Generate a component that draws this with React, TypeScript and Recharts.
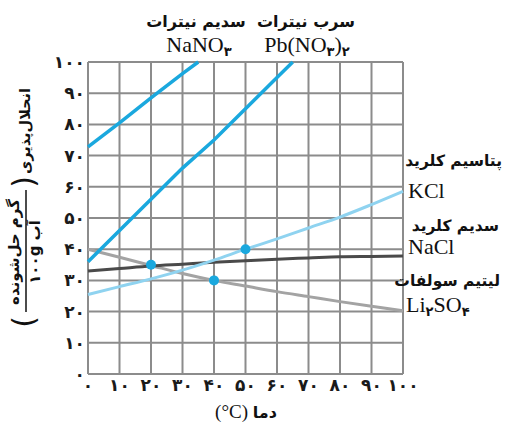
import React from "react";
import {
  ComposedChart,
  Line,
  XAxis,
  YAxis,
  CartesianGrid,
} from "recharts";

// temperature (°C) for the salts measured every 10 degrees
const temps = [0, 10, 20, 30, 40, 50, 60, 70, 80, 90, 100];
const kclValues = [25.5, 28, 30.5, 33.3, 36.5, 40, 43.3, 46.8, 50.3, 54.3, 58.5];
const naclValues = [33, 33.8, 34.6, 35.2, 35.8, 36.3, 36.8, 37.2, 37.6, 37.7, 37.8];
const li2so4Values = [40, 37.4, 34.8, 32.2, 30, 28.2, 26.4, 24.8, 23.2, 21.7, 20.3];

// nitrates leave the top of the chart
const nano3Temps = [0, 10, 20, 30, 35];
const nano3Values = [72.8, 80.5, 88.5, 96.3, 100];
const pbTemps = [0, 10, 20, 30, 40, 50, 60, 65];
const pbValues = [36, 46, 56, 66, 75, 85, 95, 100];

// highlighted points
const markTemps = [20, 40, 50];
const markValues = [35, 30, 40];

const axisTicks = [0, 10, 20, 30, 40, 50, 60, 70, 80, 90, 100];

const toPersian = (n: number | string) =>
  String(n).replace(/\d/g, (d) => "۰۱۲۳۴۵۶۷۸۹"[+d]);

const zip = (xs: number[], ys: number[]) =>
  xs.map((t, i) => ({ t, v: ys[i] }));

const kclData = zip(temps, kclValues);
const naclData = zip(temps, naclValues);
const li2so4Data = zip(temps, li2so4Values);
const nano3Data = zip(nano3Temps, nano3Values);
const pbData = zip(pbTemps, pbValues);
const markData = zip(markTemps, markValues);

const FA = "'DejaVu Sans', sans-serif";
const SERIF = "'Liberation Serif', serif";
const BLUE = "#1aa8de";
const LIGHT_BLUE = "#8fd3f0";

const tickStyle = { fontFamily: FA, fontSize: 17, fontWeight: 700, fill: "#1a1a1a" };

const Formula = ({
  x,
  y,
  parts,
  anchor = "start",
}: {
  x: number;
  y: number;
  parts: [string, boolean][];
  anchor?: "start" | "middle" | "end";
}) => (
  <text x={x} y={y} textAnchor={anchor} fontFamily={SERIF} fontSize={22} fill="#111">
    {parts.map(([s, sub], i) =>
      sub ? (
        <tspan key={i} fontFamily={FA} fontWeight={700} fontSize={13} dy={4}>
          {s}
        </tspan>
      ) : (
        <tspan key={i} dy={i > 0 && parts[i - 1][1] ? -4 : 0}>
          {s}
        </tspan>
      )
    )}
  </text>
);

const Labels = () => (
  <svg
    width={509}
    height={427}
    style={{ position: "absolute", left: 0, top: 0, pointerEvents: "none" }}
  >
    <g fontFamily={FA} fontWeight={700} fill="#111" fontSize={16}>
      <text x={196} y={27} textAnchor="middle">سدیم نیترات</text>
      <text x={306} y={27} textAnchor="middle">سرب نیترات</text>
      <text x={502} y={166} textAnchor="end" fontSize={15.5}>پتاسیم کلرید</text>
      <text x={499} y={231} textAnchor="end" fontSize={15.5}>سدیم کلرید</text>
      <text x={500} y={286} textAnchor="end" fontSize={15.5}>لیتیم سولفات</text>
      <text x={246} y={418} textAnchor="middle" fontSize={16}>
        <tspan fontFamily={SERIF} fontWeight={400} fontSize={19}>(°C) </tspan>دما
      </text>
    </g>
    <Formula x={199} y={52} anchor="middle" parts={[["NaNO", false], ["۳", true]]} />
    <Formula
      x={307}
      y={52}
      anchor="middle"
      parts={[["Pb(NO", false], ["۳", true], [")", false], ["۲", true]]}
    />
    <Formula x={408} y={198} parts={[["KCl", false]]} />
    <Formula x={408} y={254} parts={[["NaCl", false]]} />
    <Formula x={406} y={312} parts={[["Li", false], ["۲", true], ["SO", false], ["۴", true]]} />

    {/* rotated y-axis title with fraction */}
    <g transform="translate(24,212) rotate(-90)" fontFamily={FA} fontWeight={700} fill="#111">
      <text x={81} y={6} textAnchor="middle" fontSize={14.5}>انحلال‌پذیری</text>
      <text x={-40} y={-5} textAnchor="middle" fontSize={15}>گرم حل‌شونده</text>
      <line x1={-100} x2={22} y1={2} y2={2} stroke="#111" strokeWidth={1.5} />
      <text x={-40} y={16} textAnchor="middle" fontSize={15}>
        {toPersian(100)}g آب
      </text>
      <text x={-110} y={10} textAnchor="middle" fontSize={30} fontWeight={400}>(</text>
      <text x={30} y={10} textAnchor="middle" fontSize={30} fontWeight={400}>)</text>
    </g>
  </svg>
);

export default function App() {
  return (
    <div style={{ position: "absolute", left: 0, top: 0, width: 509, height: 427, background: "#fff" }}>
      <ComposedChart
        width={509}
        height={427}
        margin={{ top: 62, right: 106, bottom: 0, left: 0 }}
      >
        <CartesianGrid stroke="#8c8c8c" strokeWidth={2} />
        <XAxis
          type="number"
          dataKey="t"
          domain={[0, 100]}
          ticks={axisTicks}
          height={53}
          axisLine={false}
          tickLine={false}
          tickSize={3}
          tickMargin={2}
          interval={0}
          tick={tickStyle}
          tickFormatter={toPersian}
        />
        <YAxis
          type="number"
          dataKey="v"
          domain={[0, 100]}
          ticks={axisTicks}
          width={88}
          axisLine={false}
          tickLine={false}
          tickSize={2}
          tickMargin={1}
          interval={0}
          tick={tickStyle}
          tickFormatter={toPersian}
        />
        <Line data={li2so4Data} dataKey="v" type="monotone" stroke="#a3a3a3" strokeWidth={3} dot={false} isAnimationActive={false} />
        <Line data={naclData} dataKey="v" type="monotone" stroke="#4a4a4a" strokeWidth={3} dot={false} isAnimationActive={false} />
        <Line data={kclData} dataKey="v" type="monotone" stroke={LIGHT_BLUE} strokeWidth={3} dot={false} isAnimationActive={false} />
        <Line data={nano3Data} dataKey="v" type="linear" stroke={BLUE} strokeWidth={3.5} dot={false} isAnimationActive={false} />
        <Line data={pbData} dataKey="v" type="linear" stroke={BLUE} strokeWidth={3.5} dot={false} isAnimationActive={false} />
        <Line
          data={markData}
          dataKey="v"
          stroke="none"
          dot={{ r: 5, fill: BLUE, stroke: "none" }}
          isAnimationActive={false}
        />
      </ComposedChart>
      <Labels />
    </div>
  );
}
